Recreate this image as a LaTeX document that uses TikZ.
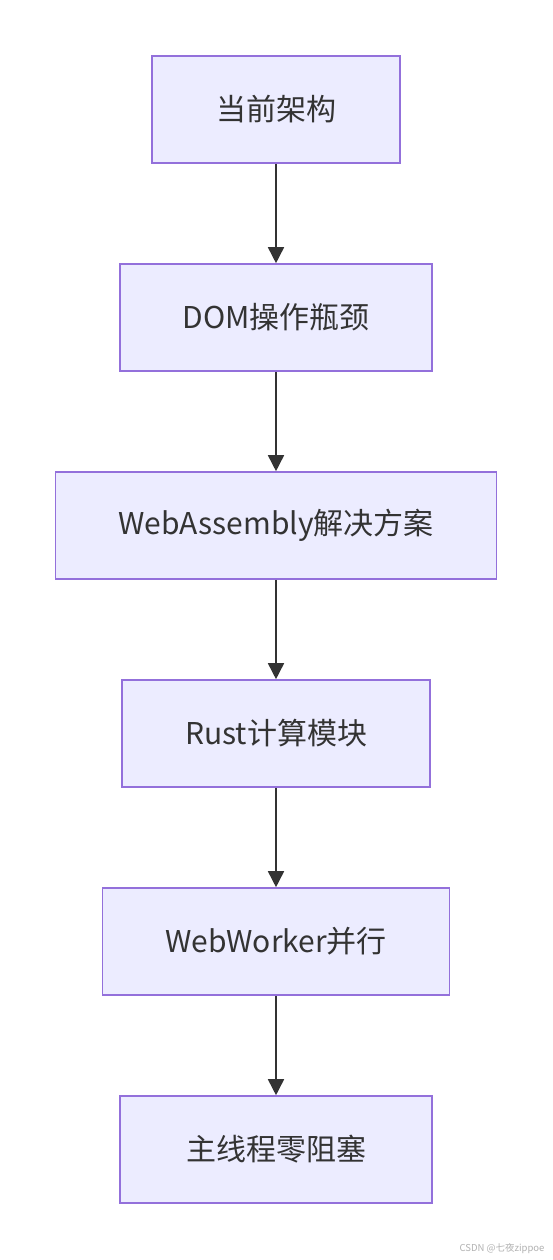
\documentclass[tikz,border=0pt]{standalone}
\usepackage{fontspec}
\setmainfont{Noto Sans CJK SC}
\usepackage{xcolor}
\usepackage{tikz}
\usetikzlibrary{arrows.meta,positioning}
\definecolor{boxfill}{HTML}{ECECFF}
\definecolor{boxline}{HTML}{9370DB}
\definecolor{flowline}{HTML}{333333}
\tikzset{
  stagebox/.style={draw=boxline,fill=boxfill,line width=1.6pt,minimum height=107pt,
    inner sep=0pt,text=flowline,font=\fontsize{30}{36}\selectfont},
  flow/.style={draw=flowline,line width=1.6pt,-{Triangle[length=16pt,width=16pt]}}
}
\begin{document}
\begin{tikzpicture}[x=1pt,y=-1pt]
\useasboundingbox[fill=white] (0,0) rectangle (552,1260);
% stages, top to bottom
\node[stagebox,minimum width=248pt] (cur)    at (276,109.5)  {当前架构};
\node[stagebox,minimum width=312pt] (dom)    at (276,317.5)  {DOM操作瓶颈};
\node[stagebox,minimum width=441pt] (wasm)   at (276,525.5)  {WebAssembly解决方案};
\node[stagebox,minimum width=308pt] (rust)   at (276,733.5)  {Rust计算模块};
\node[stagebox,minimum width=347pt] (worker) at (276,941.5)  {WebWorker并行};
\node[stagebox,minimum width=312pt] (main)   at (276,1149.5) {主线程零阻塞};
% connectors
\foreach \a/\b in {cur/dom,dom/wasm,wasm/rust,rust/worker,worker/main}
  \draw[flow] (\a.south) -- (\b.north);
% watermark
\node[anchor=east,text=gray!60,font=\fontsize{9.5}{11}\selectfont] (mark) at (548,1249) {CSDN @七夜zippoe};
\end{tikzpicture}
\end{document}
